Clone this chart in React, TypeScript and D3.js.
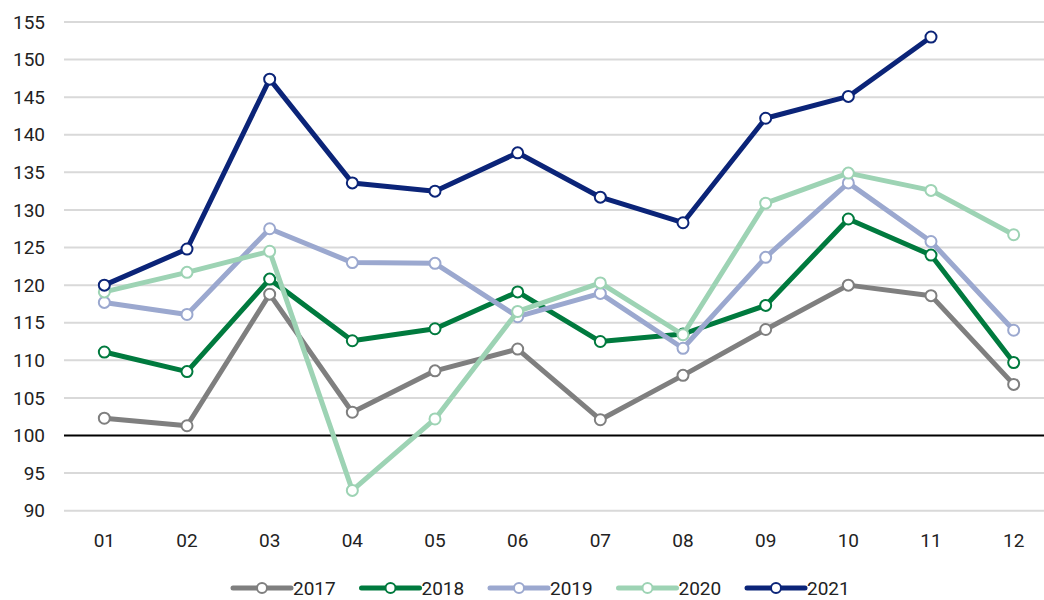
import * as d3 from 'd3';

const months = ['01', '02', '03', '04', '05', '06', '07', '08', '09', '10', '11', '12'];
const yTicks = [90, 95, 100, 105, 110, 115, 120, 125, 130, 135, 140, 145, 150, 155];

const s2017 = [102.3, 101.3, 118.8, 103.1, 108.6, 111.5, 102.1, 108.0, 114.1, 120.0, 118.6, 106.8];
const s2018 = [111.1, 108.5, 120.8, 112.6, 114.2, 119.1, 112.5, 113.5, 117.3, 128.8, 124.0, 109.7];
const s2019 = [117.7, 116.1, 127.5, 123.0, 122.9, 115.8, 118.9, 111.6, 123.7, 133.6, 125.8, 114.0];
const s2020 = [119.1, 121.7, 124.5, 92.7, 102.2, 116.5, 120.3, 113.4, 130.9, 134.9, 132.6, 126.7];
const s2021 = [120.0, 124.8, 147.4, 133.6, 132.5, 137.6, 131.7, 128.3, 142.2, 145.1, 153.0];

const series = [
  { name: '2017', color: '#7f7f7f', values: s2017 },
  { name: '2018', color: '#007a3e', values: s2018 },
  { name: '2019', color: '#9ba8cf', values: s2019 },
  { name: '2020', color: '#9dd3b4', values: s2020 },
  { name: '2021', color: '#0b2478', values: s2021 },
];

const W = 1044;
const H = 600;
const font = 'Roboto, "Noto Sans", sans-serif';

export default function App() {
  const x = d3.scaleBand<string>().domain(months).range([63, 1055]);
  const y = d3.scaleLinear().domain([100, 155]).range([435.5, 22]);
  const cx = (i: number) => x(months[i])! + x.bandwidth() / 2;

  const line = d3.line<number>()
    .x((_, i) => cx(i))
    .y(d => y(d));

  const legendX = d3.scalePoint<string>()
    .domain(series.map(s => s.name))
    .range([233, 747]);

  return (
    <svg width={W} height={H} style={{ position: 'absolute', left: 0, top: 0, background: '#fff' }}>
      {yTicks.map(t => (
        <g key={t}>
          <line x1={64} x2={W} y1={y(t)} y2={y(t)}
            stroke={t === 100 ? '#000' : '#d9d9d9'} strokeWidth={2} />
          <text x={45} y={y(t)} dy="0.35em" textAnchor="end"
            fontFamily={font} fontSize={19} fill="#222">{t}</text>
        </g>
      ))}
      {months.map((m, i) => (
        <text key={m} x={cx(i)} y={540} dy="0.35em" textAnchor="middle"
          fontFamily={font} fontSize={19} fill="#222">{m}</text>
      ))}
      {series.map(s => (
        <g key={s.name}>
          <path d={line(s.values)!} fill="none" stroke={s.color} strokeWidth={5}
            strokeLinejoin="round" />
          {s.values.map((v, i) => (
            <circle key={i} cx={cx(i)} cy={y(v)} r={5.5} fill="#fff"
              stroke={s.color} strokeWidth={2} />
          ))}
        </g>
      ))}
      {series.map(s => {
        const lx = legendX(s.name)!;
        return (
          <g key={'lg' + s.name}>
            <line x1={lx} x2={lx + 58} y1={588} y2={588} stroke={s.color}
              strokeWidth={5} strokeLinecap="round" />
            <circle cx={lx + 29} cy={588} r={5} fill="#fff" stroke={s.color} strokeWidth={2} />
            <text x={lx + 60} y={588} dy="0.35em" fontFamily={font} fontSize={19}
              fill="#222">{s.name}</text>
          </g>
        );
      })}
    </svg>
  );
}
